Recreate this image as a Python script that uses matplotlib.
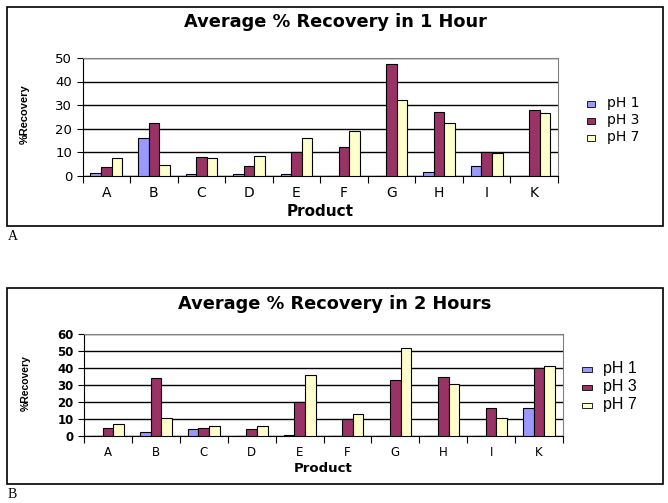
import matplotlib
matplotlib.use("Agg")
import matplotlib.pyplot as plt
import numpy as np
from matplotlib.patches import Rectangle

products = ["A", "B", "C", "D", "E", "F", "G", "H", "I", "K"]
series_names = ["pH 1", "pH 3", "pH 7"]

h1_ph1 = [1.0, 16.0, 0.5, 0.5, 0.5, 0.0, 0.0, 1.3, 4.0, 0.0]
h1_ph3 = [3.5, 22.3, 8.0, 4.0, 10.0, 12.0, 47.5, 27.0, 10.0, 28.0]
h1_ph7 = [7.5, 4.5, 7.5, 8.3, 16.0, 19.0, 32.0, 22.3, 9.6, 26.5]

h2_ph1 = [0.0, 2.5, 4.2, 0.0, 0.5, 0.0, 0.0, 0.0, 0.0, 16.5]
h2_ph3 = [5.0, 34.0, 4.8, 4.2, 20.0, 10.0, 33.0, 35.0, 16.5, 40.0]
h2_ph7 = [7.0, 10.5, 6.0, 6.0, 36.0, 13.0, 52.0, 30.5, 10.5, 41.0]

colors = ["#9999FF", "#993366", "#FFFFCC"]
W, H = 668, 503
fig = plt.figure(figsize=(W / 100, H / 100), dpi=100)
plt.rcParams['font.family'] = ['DejaVu Sans']


def fx(x):
    return x / W


def fy(y):
    return 1 - y / H


def draw_chart(box, plot, title, data, ymax, ystep, ytick_fs, ytick_w, xtick_fs,
               title_y, xlab_y, xlab_fs, tick_y, ylab_x, ylab_y, ylab_fs,
               legend_pos, leg_fs, leg_font, sq, tag, tag_y):
    bl, bt, br, bb = box
    fig.patches.append(Rectangle((fx(bl), fy(bb)), fx(br - bl), (bb - bt) / H,
                                 transform=fig.transFigure, fill=False,
                                 edgecolor="#000000", linewidth=1.2))
    pl, pt, pr, pb = plot
    ax = fig.add_axes([fx(pl), fy(pb), fx(pr - pl), (pb - pt) / H])
    x = np.arange(len(products))
    bw = 0.222
    for i, (vals, c) in enumerate(zip(data, colors)):
        ax.bar(x + (i - 1) * bw, vals, bw, color=c, edgecolor="black",
               linewidth=0.8, zorder=3, label=series_names[i])
    ax.set_xlim(-0.5, len(products) - 0.5)
    ax.set_ylim(0, ymax)
    ax.set_yticks(np.arange(0, ymax + 1, ystep))
    ax.yaxis.grid(True, color="black", linewidth=1.0, zorder=0)
    ax.set_axisbelow(True)
    ax.set_xticks(np.arange(-0.5, len(products), 1.0))
    ax.set_xticklabels([])
    ax.tick_params(axis="x", direction="out", length=5, width=0.8, colors="black")
    ax.tick_params(axis="y", direction="out", length=4, width=0.8, labelsize=ytick_fs)
    for lbl in ax.get_yticklabels():
        lbl.set_fontweight(ytick_w)
    for xi, p in zip(x, products):
        fig.text(fx(pl + (pr - pl) * (xi + 0.5) / len(products)), fy(tick_y), p,
                 ha="center", va="center", fontsize=xtick_fs)
    ax.spines["top"].set_color("#808080")
    ax.spines["right"].set_color("#808080")
    ax.spines["left"].set_color("black")
    ax.spines["bottom"].set_color("black")
    fig.text(fx((bl + br) / 2), fy(title_y), title, ha="center", va="center",
             fontsize=12.8, fontweight="bold")
    fig.text(fx((pl + pr) / 2), fy(xlab_y), "Product", ha="center", va="center",
             fontsize=xlab_fs, fontweight="bold")
    fig.text(fx(ylab_x), fy(ylab_y), "%Recovery", ha="center", va="center",
             rotation=90, fontsize=ylab_fs, fontweight="bold",
             family=["Liberation Sans", "DejaVu Sans"])
    lx, ly, dy, tx = legend_pos
    sw, sh = sq
    for i, name in enumerate(series_names):
        yy = ly + i * dy
        fig.patches.append(Rectangle((fx(lx), fy(yy + sh / 2 + 1)), sw / W, sh / H,
                                     transform=fig.transFigure, facecolor=colors[i],
                                     edgecolor="black", linewidth=0.6))
        fig.text(fx(tx), fy(yy), name, ha="left", va="center",
                 fontsize=leg_fs, family=leg_font)
    fig.text(fx(8), fy(tag_y), tag, ha="left", va="center", fontsize=10,
             family=["Liberation Serif", "DejaVu Serif"])


draw_chart((7, 7, 663, 226), (82.5, 58, 558, 175.5), "Average % Recovery in 1 Hour",
           [h1_ph1, h1_ph3, h1_ph7], 50, 10, 9.5, "normal", 10,
           22, 212, 11, 193, 25, 114, 8,
           (587, 103, 17, 607), 10, ["DejaVu Sans"], (8, 6), "A", 237)

draw_chart((7, 288, 663, 484), (84, 334, 563, 436), "Average % Recovery in 2 Hours",
           [h2_ph1, h2_ph3, h2_ph7], 60, 10, 8.5, "bold", 8.5,
           304, 469, 9.5, 452, 26, 383, 7.5,
           (582, 368, 18, 603), 11.5, ["Liberation Sans", "DejaVu Sans"], (10, 5), "B", 494)

fig.savefig("out.png", dpi=100)
